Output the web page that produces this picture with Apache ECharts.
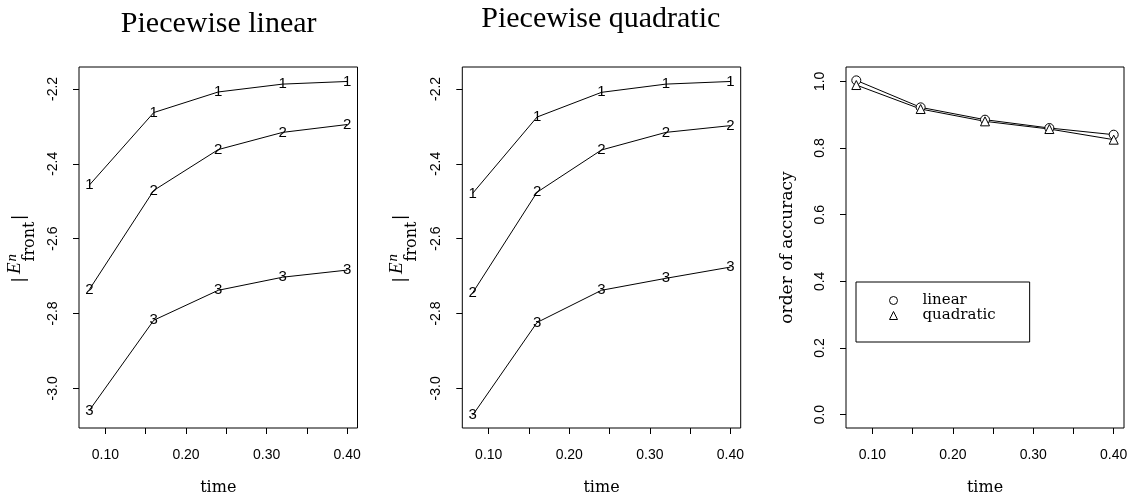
<!DOCTYPE html>
<html>
<head>
<meta charset="utf-8">
<script src="https://cdn.jsdelivr.net/npm/echarts@6/dist/echarts.min.js"></script>
<style>
  html, body { margin: 0; padding: 0; background: #fff; }
  #chart { width: 1135px; height: 497px; }
</style>
</head>
<body>
<div id="chart"></div>
<script>
// Time levels on the horizontal axis
const times = [0.08, 0.16, 0.24, 0.32, 0.40];

// Refinement levels drawn as plotting characters
const levels = ['1', '2', '3'];

// Front error (log scale), piecewise linear elements, one array per level
const linearLevel1 = [-2.457, -2.263, -2.208, -2.187, -2.180];
const linearLevel2 = [-2.736, -2.471, -2.362, -2.316, -2.295];
const linearLevel3 = [-3.059, -2.818, -2.738, -2.703, -2.684];

// Front error (log scale), piecewise quadratic elements
const quadLevel1 = [-2.479, -2.275, -2.209, -2.187, -2.180];
const quadLevel2 = [-2.745, -2.476, -2.363, -2.316, -2.298];
const quadLevel3 = [-3.072, -2.824, -2.738, -2.706, -2.676];

// Observed order of accuracy
const orderLinear = [1.003, 0.922, 0.885, 0.860, 0.840];
const orderQuadratic = [0.989, 0.917, 0.880, 0.857, 0.825];

// Tick positions and labelled values
const timeTicks = [0.10, 0.15, 0.20, 0.25, 0.30, 0.35, 0.40];
const timeLabels = [0.10, 0.20, 0.30, 0.40];
const errorTicks = [-3.0, -2.8, -2.6, -2.4, -2.2];
const orderTicks = [0.0, 0.2, 0.4, 0.6, 0.8, 1.0];

const linearLevels = [linearLevel1, linearLevel2, linearLevel3];
const quadLevels = [quadLevel1, quadLevel2, quadLevel3];

const BLACK = '#000';
const SANS = '"Liberation Sans", Arial, sans-serif';
const SERIF_WIDE = '"DejaVu Serif", serif';
const SERIF = '"Liberation Serif", "Times New Roman", serif';

const grids = [
  { left: 79, top: 67, width: 278.5, height: 361 },
  { left: 462.3, top: 67, width: 278.4, height: 361 },
  { left: 846, top: 67, width: 278, height: 361 }
].map(g => Object.assign({
  show: true, borderColor: BLACK, borderWidth: 1, backgroundColor: 'transparent',
  containLabel: false, outerBoundsMode: 'none'
}, g));

function timeAxis(i) {
  return {
    type: 'value', gridIndex: i, min: 0.0672, max: 0.4128,
    axisLine: { show: false, onZero: false },
    splitLine: { show: false },
    axisTick: { show: true, length: 6, lineStyle: { color: BLACK, width: 1 }, customValues: timeTicks },
    axisLabel: { customValues: timeLabels, formatter: v => v.toFixed(2), margin: 20,
                 fontFamily: SANS, fontSize: 14, color: BLACK },
    name: 'time', nameLocation: 'middle', nameGap: 52,
    nameTextStyle: { fontFamily: SERIF_WIDE, fontSize: 16, color: BLACK }
  };
}

function valueAxis(i, min, max, ticks, extra) {
  return Object.assign({
    type: 'value', gridIndex: i, min: min, max: max,
    axisLine: { show: false, onZero: false },
    splitLine: { show: false },
    axisTick: { show: true, length: 6, lineStyle: { color: BLACK, width: 1 }, customValues: ticks },
    axisLabel: { customValues: ticks, formatter: v => v.toFixed(1), rotate: 90, margin: 19,
                 fontFamily: SANS, fontSize: 14, color: BLACK }
  }, extra || {});
}

// Error curves labelled with their level digit at every point
function levelSeries(axisIdx, values, prefix) {
  return levels.map((lv, k) => ({
    type: 'line',
    name: prefix + ' level ' + lv,
    xAxisIndex: axisIdx, yAxisIndex: axisIdx,
    data: times.map((t, j) => [t, values[k][j]]),
    symbol: 'circle', symbolSize: 1, showSymbol: true,
    itemStyle: { color: 'rgba(0,0,0,0)' },
    lineStyle: { color: BLACK, width: 1 },
    label: { show: true, position: 'inside', formatter: lv, fontFamily: SANS, fontSize: 15,
             color: BLACK, textBorderWidth: 0 },
    emphasis: { disabled: true },
    silent: true
  }));
}

// |E^n_front| axis title, composed of pieces inside a rotated group
function frontTitle(ox, oy) {
  return {
    type: 'group', x: ox, y: oy, rotation: Math.PI / 2,
    children: [
      { type: 'text', x: 0, y: -2.5, style: { text: '|', font: '17px ' + SERIF_WIDE, fill: BLACK, align: 'center', verticalAlign: 'middle' } },
      { type: 'text', x: 6, y: -6.5, style: { text: 'E', font: 'italic 19px ' + SERIF, fill: BLACK, align: 'left', verticalAlign: 'middle' } },
      { type: 'text', x: 18.5, y: -10, style: { text: 'n', font: 'italic 15px ' + SERIF, fill: BLACK, align: 'left', verticalAlign: 'middle' } },
      { type: 'text', x: 18.5, y: 8.3, style: { text: 'front', font: '16px ' + SERIF_WIDE, fill: BLACK, align: 'left', verticalAlign: 'middle' } },
      { type: 'text', x: 62.5, y: -2.5, style: { text: '|', font: '17px ' + SERIF_WIDE, fill: BLACK, align: 'center', verticalAlign: 'middle' } }
    ]
  };
}

// Hollow plotting symbols with a thin outline
const hollow = { color: '#fff', borderColor: BLACK, borderWidth: 1 };

const option = {
  animation: false,
  backgroundColor: '#fff',
  grid: grids,
  xAxis: [timeAxis(0), timeAxis(1), timeAxis(2)],
  yAxis: [
    valueAxis(0, -3.106, -2.1413, errorTicks),
    valueAxis(1, -3.106, -2.1413, errorTicks),
    valueAxis(2, -0.0401, 1.0431, orderTicks, {
      name: 'order of accuracy', nameLocation: 'middle', nameGap: 50,
      nameTextStyle: { fontFamily: SERIF_WIDE, fontSize: 17, color: BLACK }
    })
  ],
  legend: {
    data: [
      { name: 'linear', icon: 'circle', itemStyle: hollow },
      { name: 'quadratic', icon: 'triangle', itemStyle: hollow }
    ],
    orient: 'vertical', left: 856, top: 282,
    padding: [11, 34, 19, 33],
    itemWidth: 8, itemHeight: 8, itemGap: 0,
    borderColor: BLACK, borderWidth: 1, borderRadius: 0,
    selectedMode: false,
    textStyle: { fontFamily: SERIF_WIDE, fontSize: 15, color: BLACK, lineHeight: 13.4, padding: [0, 0, 0, 20] }
  },
  graphic: [
    { type: 'text', x: 218.7, y: 24.5, style: { text: 'Piecewise linear', font: '30px ' + SERIF, fill: BLACK, align: 'center', verticalAlign: 'middle' } },
    { type: 'text', x: 600.8, y: 19.5, style: { text: 'Piecewise quadratic', font: '30px ' + SERIF, fill: BLACK, align: 'center', verticalAlign: 'middle' } },
    frontTitle(21.7, 280),
    frontTitle(403.4, 280)
  ],
  series: [
    ...levelSeries(0, linearLevels, 'linear'),
    ...levelSeries(1, quadLevels, 'quadratic'),
    {
      type: 'line', name: 'linear', xAxisIndex: 2, yAxisIndex: 2,
      data: times.map((t, j) => [t, orderLinear[j]]),
      symbol: 'circle', symbolSize: 9,
      itemStyle: hollow,
      lineStyle: { color: BLACK, width: 1 },
      emphasis: { disabled: true }, silent: true
    },
    {
      type: 'line', name: 'quadratic', xAxisIndex: 2, yAxisIndex: 2,
      data: times.map((t, j) => [t, orderQuadratic[j]]),
      symbol: 'triangle', symbolSize: 9,
      itemStyle: hollow,
      lineStyle: { color: BLACK, width: 1 },
      emphasis: { disabled: true }, silent: true
    }
  ]
};

const chart = echarts.init(document.getElementById('chart'), null, { renderer: 'canvas' });
chart.setOption(option);
</script>
</body>
</html>
